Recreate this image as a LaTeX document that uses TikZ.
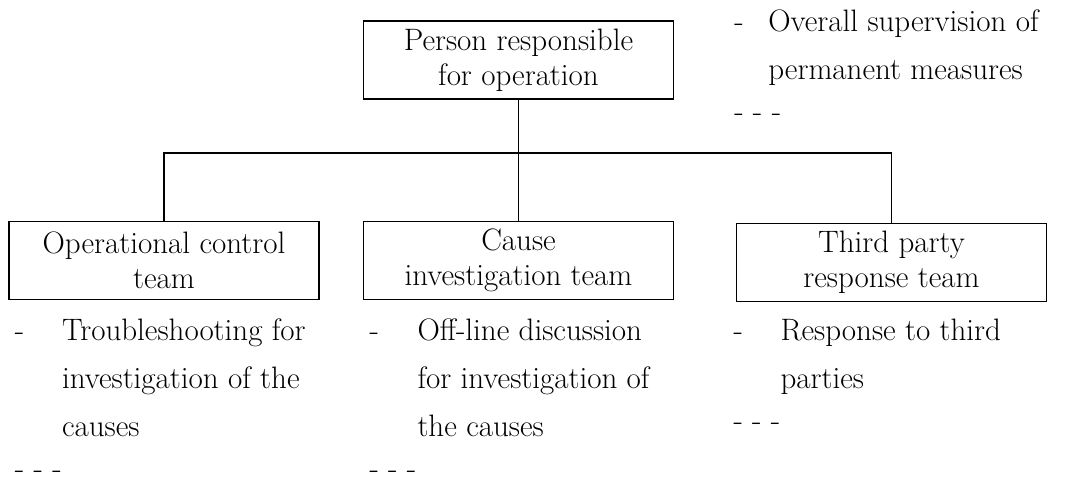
\documentclass[tikz,border=0pt]{standalone}
\usetikzlibrary{positioning}

\newcommand{\dutylist}[1]{\begin{tabular}[t]{@{}l@{}}#1\end{tabular}}

\begin{document}
\begin{tikzpicture}[
    unit/.style={rectangle,draw,line width=0.9pt,minimum width=155pt,
		minimum height=39pt,align=center,inner sep=2pt,
		font=\fontsize{15.5}{17.5}\selectfont},
% Duty list style
    duty/.style={anchor=base west,inner sep=0pt,
		font=\fontsize{15.5}{24}\selectfont},
    bullet/.style={anchor=base west,inner sep=0pt,
		font=\fontsize{15.5}{24}\selectfont}
    ]
   \useasboundingbox (0,0) rectangle (536.5pt,-240.5pt);
%%% Draw organisation chart
   \begin{scope}[line width=0.9pt,node distance=100pt,on grid]
      \node [unit] at (259.25pt,-30pt) (head) {Person responsible\\for operation};
      \node [unit, below=100.25pt of head] (cause) {Cause\\investigation team};
      \node [unit, left=177.25pt of cause] (ops) {Operational control\\team};
      \node [unit, right=186.5pt of cause, yshift=-1pt] (third) {Third party\\response team};
      \coordinate [below=46.5pt of head] (bus);

      \draw (head) -- (cause);
      \draw (bus) -| (ops);
      \draw (bus) -| (third);

      % duties of each team
      \node [bullet] at ([xshift=29.5pt,yshift=-5.5pt]head.north east) (headdash) {-};
      \node [duty] at ([xshift=17pt]headdash.base west) (headtext)
            {\dutylist{Overall supervision of\\permanent measures}};
      \node [bullet] at ([yshift=-45pt]headdash.base west) (headmore) {- - -};

      \node [bullet] at ([xshift=3pt,yshift=-20pt]ops.south west) (opsdash) {-};
      \node [duty] at ([xshift=23.5pt]opsdash.base west) (opstext)
            {\dutylist{Troubleshooting for\\investigation of the\\causes}};
      \node [bullet] at ([yshift=-69pt]opsdash.base west) (opsmore) {- - -};

      \node [bullet] at ([xshift=3pt,yshift=-20pt]cause.south west) (causedash) {-};
      \node [duty] at ([xshift=24pt]causedash.base west) (causetext)
            {\dutylist{Off-line discussion\\for investigation of\\the causes}};
      \node [bullet] at ([yshift=-69pt]causedash.base west) (causemore) {- - -};

      \node [bullet] at ([xshift=-1.5pt,yshift=-19pt]third.south west) (thirddash) {-};
      \node [duty] at ([xshift=23.5pt]thirddash.base west) (thirdtext)
            {\dutylist{Response to third\\parties}};
      \node [bullet] at ([yshift=-45pt]thirddash.base west) (thirdmore) {- - -};
   \end{scope}
\end{tikzpicture}
\end{document}
